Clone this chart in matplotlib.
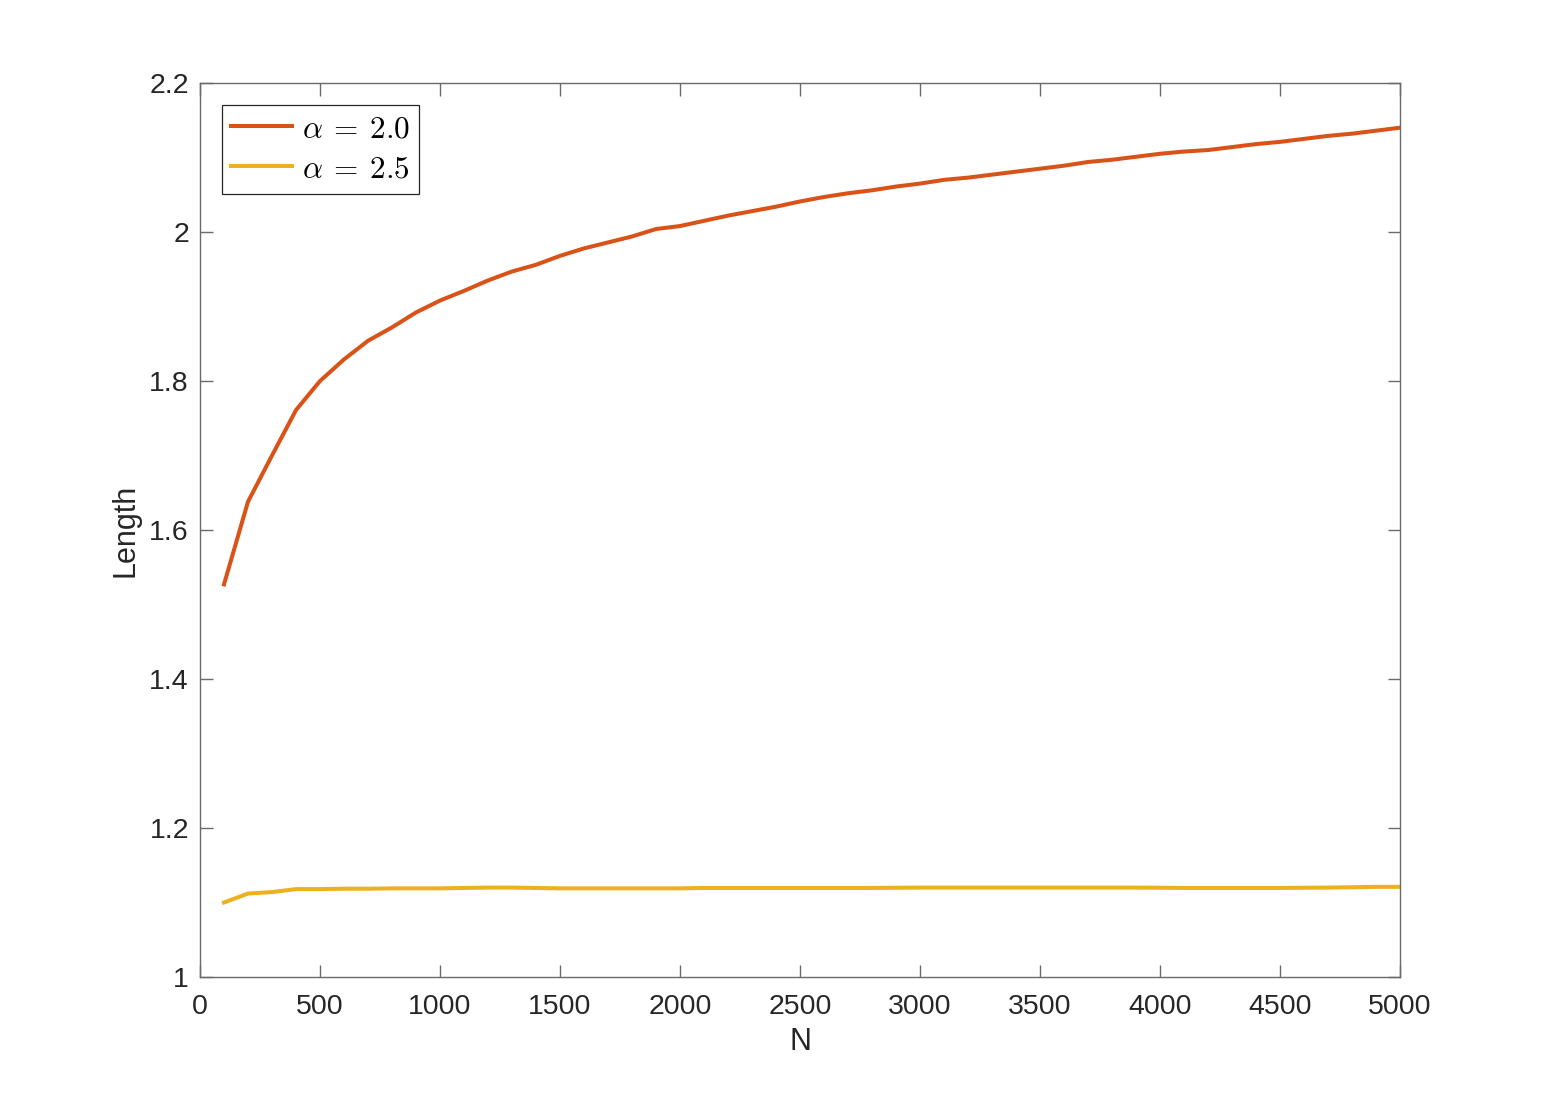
import numpy as np
import matplotlib
matplotlib.use("Agg")
import matplotlib.pyplot as plt

# sample sizes
N = np.arange(100, 5001, 100)

# alpha = 2.0
len_a20 = [1.527, 1.638, 1.700, 1.761, 1.800, 1.829, 1.854, 1.872, 1.892, 1.908,
           1.921, 1.935, 1.947, 1.956, 1.968, 1.978, 1.986, 1.994, 2.004, 2.008,
           2.015, 2.022, 2.028, 2.034, 2.041, 2.047, 2.052, 2.056, 2.061, 2.065,
           2.070, 2.073, 2.077, 2.081, 2.085, 2.089, 2.094, 2.097, 2.101, 2.105,
           2.108, 2.110, 2.114, 2.118, 2.121, 2.125, 2.129, 2.132, 2.136, 2.140]

# alpha = 2.5
len_a25 = [1.100, 1.112, 1.114, 1.118, 1.118, 1.1185, 1.1185, 1.119, 1.119, 1.119,
           1.1195, 1.120, 1.120, 1.1195, 1.119, 1.119, 1.119, 1.119, 1.119, 1.119,
           1.1195, 1.1195, 1.1195, 1.1195, 1.1195, 1.1195, 1.1195, 1.1195, 1.1198, 1.120,
           1.120, 1.120, 1.120, 1.120, 1.120, 1.120, 1.120, 1.120, 1.120, 1.1198,
           1.1195, 1.1195, 1.1195, 1.1195, 1.1195, 1.1198, 1.120, 1.1205, 1.121, 1.121]

labels = [r'$\alpha\:=\:2.0$', r'$\alpha\:=\:2.5$']
colors = ['#D95319', '#EDB120']

plt.rcParams['font.family'] = ['Liberation Sans', 'DejaVu Sans']
plt.rcParams['mathtext.fontset'] = 'cm'

fig = plt.figure(figsize=(15.48, 10.98), dpi=100)
ax = fig.add_axes([0.1292, 0.1102, 0.7752, 0.8142])

ax.plot(N, len_a20, color=colors[0], lw=2.9, label=labels[0])
ax.plot(N, len_a25, color=colors[1], lw=2.9, label=labels[1])

ax.set_xlim(0, 5000)
ax.set_ylim(1, 2.2)
ax.set_xticks(np.arange(0, 5001, 500))
ax.set_yticks([1, 1.2, 1.4, 1.6, 1.8, 2, 2.2])
ax.set_yticklabels(['1', '1.2', '1.4', '1.6', '1.8', '2', '2.2'])

axis_col = '#262626'
for s in ax.spines.values():
    s.set_color('#6a6a6a')
    s.set_linewidth(1.0)
ax.tick_params(direction='in', length=9, width=1.0, color='#6a6a6a',
               labelcolor=axis_col, labelsize=20.5, top=True, right=True)
ax.tick_params(axis='x', pad=12)
ax.tick_params(axis='y', pad=8)

ax.set_xlabel('N', fontsize=22, color=axis_col, labelpad=5)
ax.set_ylabel('Length', fontsize=22, color=axis_col, labelpad=6)

leg = ax.legend(loc='upper left', fontsize=22.5, frameon=True, fancybox=False,
                handlelength=1.95, handletextpad=0.3, borderaxespad=0.7,
                borderpad=0.3, labelspacing=0.32)
leg.get_frame().set_edgecolor(axis_col)
leg.get_frame().set_linewidth(0.9)
leg.get_frame().set_alpha(1)

fig.savefig('out.png', dpi=100, facecolor='white')
